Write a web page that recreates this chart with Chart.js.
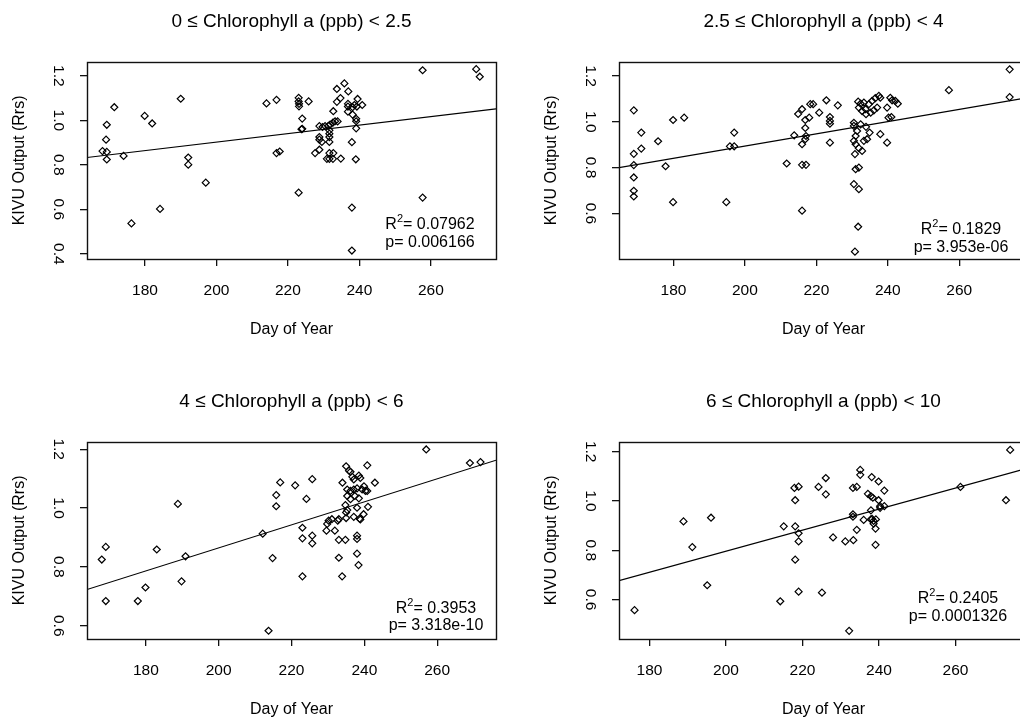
<!DOCTYPE html>
<html>
<head>
<meta charset="utf-8">
<script src="https://cdn.jsdelivr.net/npm/chart.js@4/dist/chart.umd.min.js"></script>
<style>
  html, body { margin: 0; padding: 0; background: #fff; }
  #wrap { position: relative; width: 1020px; height: 721px; overflow: hidden; background: #fff; }
  #wrap canvas { position: absolute; }
</style>
</head>
<body>
<div id="wrap">
  <canvas id="p1" width="532" height="380" style="left:0;top:0"></canvas>
  <canvas id="p2" width="532" height="380" style="left:532px;top:0"></canvas>
  <canvas id="p3" width="532" height="380" style="left:0;top:380px"></canvas>
  <canvas id="p4" width="532" height="380" style="left:532px;top:380px"></canvas>
</div>
<script>
// panel titles, axis ranges and tick labels
const panelTitles = [
  '0 \u2264 Chlorophyll a (ppb) < 2.5',
  '2.5 \u2264 Chlorophyll a (ppb) < 4',
  '4 \u2264 Chlorophyll a (ppb) < 6',
  '6 \u2264 Chlorophyll a (ppb) < 10'
];
const xTicks = [180, 200, 220, 240, 260];
const yTicks = [
  [0.4, 0.6, 0.8, 1.0, 1.2],
  [0.6, 0.8, 1.0, 1.2],
  [0.6, 0.8, 1.0, 1.2],
  [0.6, 0.8, 1.0, 1.2]
];
const xMin = [163.76, 164.76, 163.84, 172.04];
const xMax = [278.24, 279.24, 276.16, 278.96];
const yMin = [0.377, 0.401, 0.555, 0.44];
const yMax = [1.263, 1.262, 1.225, 1.24];

// regression line and stats
const fitIntercept = [0.520, 0.360, 0.082, -0.058];
const fitSlope = [0.00191, 0.00267, 0.003913, 0.00427];
const r2Values = ['0.07962', '0.1829', '0.3953', '0.2405'];
const pValues = ['0.006166', '3.953e-06', '3.318e-10', '0.0001326'];

// 0 <= chl < 2.5
const day1 = [168.1,169.3,169.1,169.3,169.3,171.4,174.0,176.2,179.9,182.0,184.2,190.0,192.1,192.1,197.0,
  214.0,216.8,223.0,223.0,223.1,223.1,225.8,224.0,224.0,223.8,216.8,217.7,223.0,
  233.7,235.8,236.9,234.7,233.7,232.7,237.9,239.0,237.9,237.9,239.5,236.8,236.8,238.1,238.6,239.3,240.8,
  236.8,238.1,239.1,239.1,239.1,234.8,228.8,229.7,230.4,231.3,231.8,232.6,233.2,233.9,231.6,231.6,231.6,
  231.6,228.8,228.8,229.5,228.8,227.6,230.9,231.6,232.6,232.7,231.6,257.7,257.7,272.7,273.7];
const rrs1 = [0.862,0.980,0.913,0.858,0.824,1.059,0.840,0.537,1.020,0.986,0.602,1.097,0.833,0.801,0.720,
  1.076,1.092,1.101,1.085,1.074,1.063,1.085,1.008,0.962,0.960,0.853,0.860,0.675,
  1.141,1.166,1.130,1.100,1.083,1.041,0.902,0.825,0.608,0.415,1.096,1.074,1.062,1.059,1.069,1.062,1.069,
  1.039,1.026,1.007,0.996,0.964,0.828,0.974,0.970,0.974,0.975,0.981,0.990,0.996,0.995,0.955,0.940,0.925,
  0.903,0.925,0.913,0.903,0.868,0.853,0.827,0.827,0.827,0.853,0.853,1.225,0.653,1.230,1.196];

// 2.5 <= chl < 4
const day2 = [168.9,168.9,168.9,168.9,168.9,168.9,171.0,171.0,175.7,177.8,179.9,179.9,183.0,194.8,195.8,197.0,197.0,
  211.7,213.8,214.9,216.0,216.0,216.0,217.1,216.0,216.9,216.9,216.9,217.1,218.0,218.3,219.1,220.8,222.8,
  223.8,223.8,223.8,223.8,226.0,231.7,232.4,233.3,231.9,233.8,234.7,235.6,236.5,237.5,237.9,237.0,236.1,
  235.2,233.9,232.8,230.5,230.5,232.4,231.4,231.0,230.5,231.0,231.9,230.8,233.3,234.2,234.9,233.9,232.8,
  231.0,231.9,230.5,231.9,231.7,230.8,240.7,239.8,241.0,240.2,237.9,239.8,241.2,242.1,242.8,257.1,274.1,274.1];
const rrs2 = [1.050,0.860,0.811,0.757,0.699,0.674,0.953,0.883,0.915,0.806,1.008,0.649,1.018,0.649,0.893,0.893,0.953,
  0.818,0.941,1.034,1.055,0.902,0.812,0.812,0.612,0.973,1.008,0.924,0.938,1.018,1.077,1.077,1.040,1.094,
  1.021,0.992,1.004,0.909,1.072,1.088,1.079,1.084,1.062,1.055,1.077,1.091,1.103,1.113,1.105,1.062,1.050,
  1.040,1.033,1.047,0.996,0.982,0.989,0.960,0.938,0.917,0.902,0.885,0.859,0.917,0.924,0.953,0.978,0.873,
  0.793,0.800,0.728,0.706,0.542,0.433,1.105,1.062,1.021,1.018,0.946,0.909,1.094,1.091,1.079,1.138,1.229,1.108];

// 4 <= chl < 6
const day3 = [167.9,169.0,169.0,177.8,179.9,183.0,188.8,189.8,190.9,212.1,214.8,213.7,215.8,215.8,216.9,221.0,
  223.0,223.0,223.0,224.1,225.7,225.7,225.7,230.2,231.1,232.7,229.8,229.6,231.9,233.0,234.8,233.0,233.9,
  238.0,238.0,238.0,238.4,235.0,235.8,236.2,236.7,237.1,238.5,238.9,234.0,240.8,242.9,239.9,235.3,236.2,
  237.1,238.0,239.4,240.3,235.3,236.2,237.4,238.5,234.8,238.0,241.0,235.0,237.1,239.8,238.7,238.9,235.0,
  233.0,235.3,240.8,257.0,269.0,271.9];
const rrs3 = [0.825,0.868,0.684,0.684,0.730,0.859,1.014,0.751,0.836,0.913,0.830,0.583,1.044,1.006,1.087,1.077,
  0.933,0.897,0.768,1.031,1.098,0.906,0.880,0.957,0.962,0.957,0.946,0.923,0.923,0.892,0.892,0.831,0.768,
  0.895,0.906,0.845,0.806,1.142,1.127,1.123,1.106,1.097,1.110,1.102,1.086,1.145,1.086,1.074,1.063,1.058,
  1.063,1.067,1.063,1.058,1.041,1.030,1.041,1.033,1.010,1.001,1.004,0.985,0.970,0.979,0.964,0.961,0.966,
  0.962,0.993,1.058,1.199,1.153,1.156];

// 6 <= chl < 10
const day4 = [176.1,188.9,191.2,195.1,196.1,214.2,215.1,217.9,219.0,218.1,218.1,219.0,219.0,218.1,219.0,
  224.2,226.1,226.1,225.1,228.0,231.2,232.2,233.3,233.2,234.2,233.2,233.2,234.2,235.1,235.1,236.0,237.1,
  238.1,237.9,238.4,237.9,237.9,238.6,239.2,238.6,239.1,239.1,239.9,239.9,240.3,241.4,241.4,238.2,240.3,
  261.3,273.2,274.3];
const rrs4 = [0.557,0.917,0.813,0.658,0.932,0.593,0.897,1.053,1.058,1.003,0.897,0.869,0.836,0.762,0.632,
  1.057,1.093,1.027,0.628,0.852,0.836,0.473,0.841,1.053,1.057,0.946,0.936,0.883,1.126,1.106,0.923,1.029,
  1.097,1.019,1.013,0.962,0.925,0.919,0.925,0.908,0.888,0.822,1.079,1.003,0.972,1.042,0.979,0.927,0.979,
  1.057,1.003,1.207];

const days = [day1, day2, day3, day4];
const rrs = [rrs1, rrs2, rrs3, rrs4];

// where the stats text sits, measured from the plot box's bottom-right corner
const statPos = [
  { dx: 66, dy1: 34, dy2: 16 },
  { dx: 67, dy1: 29, dy2: 11 },
  { dx: 60, dy1: 30, dy2: 13 },
  { dx: 70, dy1: 40, dy2: 22 }
];

const FONT = "'Liberation Sans', Arial, sans-serif";
Chart.defaults.font.family = FONT;
Chart.defaults.color = '#000';

// R style: full box round the plot plus the R^2 / p text
const rBox = {
  id: 'rBox',
  afterDraw(chart, args, opts) {
    const ctx = chart.ctx;
    const a = chart.chartArea;
    ctx.save();
    ctx.strokeStyle = '#111';
    ctx.lineWidth = 1.4;
    ctx.strokeRect(Math.round(a.left) + 0.5, Math.round(a.top) + 0.5,
      Math.round(a.right - a.left), Math.round(a.bottom - a.top));

    const big = '16px ' + FONT, small = '11px ' + FONT;
    const cx = a.right - opts.dx;
    ctx.fillStyle = '#000';
    ctx.textBaseline = 'middle';
    ctx.textAlign = 'left';
    ctx.font = big;
    const wR = ctx.measureText('R').width;
    const rest = '= ' + opts.r2;
    const wRest = ctx.measureText(rest).width;
    ctx.font = small;
    const w2 = ctx.measureText('2').width;
    const x0 = cx - (wR + w2 + wRest) / 2;
    const y1 = a.bottom - opts.dy1;
    ctx.font = big;
    ctx.fillText('R', x0, y1);
    ctx.font = small;
    ctx.fillText('2', x0 + wR, y1 - 6);
    ctx.font = big;
    ctx.fillText(rest, x0 + wR + w2, y1);
    ctx.textAlign = 'center';
    ctx.fillText('p= ' + opts.p, cx, a.bottom - opts.dy2);
    ctx.restore();
  }
};

function makePanel(i) {
  const pts = days[i].map((d, k) => ({ x: d, y: rrs[i][k] }));
  const fit = [xMin[i], xMax[i]].map(x => ({ x: x, y: fitIntercept[i] + fitSlope[i] * x }));

  new Chart(document.getElementById('p' + (i + 1)), {
    type: 'scatter',
    data: {
      datasets: [{
        data: pts,
        pointStyle: 'rectRot',
        pointRadius: 3.5,
        pointHoverRadius: 3.5,
        borderColor: '#000',
        backgroundColor: 'rgba(0,0,0,0)',
        borderWidth: 1.2
      }, {
        data: fit,
        showLine: true,
        borderColor: '#000',
        borderWidth: 1.1,
        pointRadius: 0,
        fill: false
      }]
    },
    options: {
      responsive: false,
      animation: false,
      devicePixelRatio: 1,
      layout: { padding: { left: 0, top: 0, right: 36, bottom: 0 } },
      plugins: {
        legend: { display: false },
        tooltip: { enabled: false },
        title: {
          display: true,
          text: panelTitles[i],
          fullSize: false,
          color: '#000',
          font: { size: 19, weight: 'normal' },
          padding: { top: 10, bottom: 29 }
        },
        rBox: { r2: r2Values[i], p: pValues[i], dx: statPos[i].dx, dy1: statPos[i].dy1, dy2: statPos[i].dy2 }
      },
      scales: {
        x: {
          type: 'linear',
          min: xMin[i],
          max: xMax[i],
          afterBuildTicks: s => { s.ticks = xTicks.map(v => ({ value: v })); },
          afterFit: s => { s.height = 121; },
          ticks: { font: { size: 15.5 }, padding: 15, color: '#000', callback: v => String(v) },
          grid: { drawOnChartArea: false, drawTicks: true, tickLength: 7, color: '#111', lineWidth: 1.3 },
          border: { display: false },
          title: { display: true, text: 'Day of Year', color: '#000', font: { size: 16 }, padding: { top: 0, bottom: 41 } }
        },
        y: {
          type: 'linear',
          min: yMin[i],
          max: yMax[i],
          afterBuildTicks: s => { s.ticks = yTicks[i].map(v => ({ value: v })); },
          afterFit: s => { s.width = 87; },
          ticks: {
            font: { size: 15.5 }, padding: 11, color: '#000',
            minRotation: 270, maxRotation: 270, crossAlign: 'center',
            callback: v => v.toFixed(1)
          },
          grid: { drawOnChartArea: false, drawTicks: true, tickLength: 7, color: '#111', lineWidth: 1.3 },
          border: { display: false },
          title: { display: true, text: 'KIVU Output (Rrs)', color: '#000', font: { size: 16 }, padding: { top: 10, bottom: 0 } }
        }
      }
    },
    plugins: [rBox]
  });
}

for (let i = 0; i < 4; i++) makePanel(i);
</script>
</body>
</html>
